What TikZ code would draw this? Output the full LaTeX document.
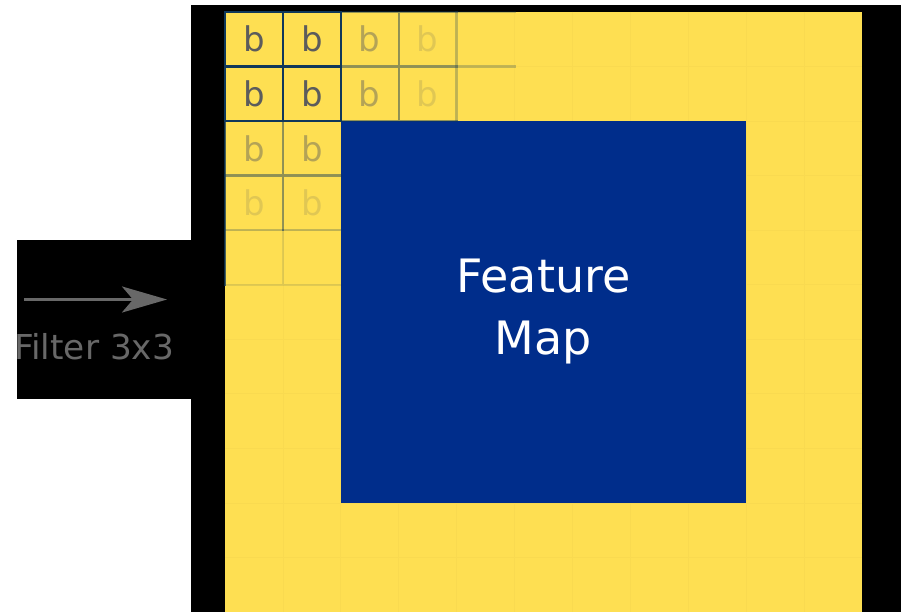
\documentclass[tikz,border=0pt]{standalone}
\usepackage{fontspec}
\setmainfont{DejaVu Sans}
\usetikzlibrary{arrows.meta}
\definecolor{padyellow}{RGB}{254,223,82}
\definecolor{faintline}{RGB}{249,218,80}
\definecolor{fmblue}{RGB}{0,45,139}
\definecolor{filterline}{RGB}{16,56,90}
\definecolor{bgray}{RGB}{92,92,92}
\definecolor{labelgray}{RGB}{104,104,104}
\tikzset{
  cellletter/.style={text=bgray, font=\fontsize{34}{40}\selectfont, inner sep=0pt, anchor=center},
  fline/.style={draw=filterline, line width=2.4pt, line cap=rect},
  arrowline/.style={draw=labelgray, line width=3pt, -{Stealth[length=45pt,width=26pt,inset=11pt]}},
}
\begin{document}
\begin{tikzpicture}[x=1pt,y=-1pt]
\useasboundingbox (0,0) rectangle (901,612);
\fill[white] (0,0) rectangle (901,612);
% black backgrounds
\fill[black] (191,5) rectangle (901,612);
\fill[black] (17,240) rectangle (191,399);
% yellow padded input
\fill[padyellow] (225,12) rectangle (862,612);
\begin{scope}[shift={(225,12)}, x=57.909pt, y=-54.545pt]
  % faint grid
  \foreach \i in {1,...,10} {
    \draw[faintline, line width=0.8pt] (\i,0) -- (\i,11);
    \draw[faintline, line width=0.8pt] (0,\i) -- (11,\i);
  }
  % feature map
  \node (fm) [rectangle, fill=fmblue, inner sep=0pt, minimum width=405.36pt, minimum height=381.8pt,
        text=white, align=center, font=\fontsize{46}{62}\selectfont] at (5.5,5.5) {Feature\\Map};
  % filter trail lines
  \draw[fline, opacity=0.12] (0,5) -- (2,5) (1,4) -- (1,5);
  \draw[fline, opacity=0.25] (4,0) -- (5,0) (4,1) -- (5,1) (4,0) -- (4,2) (0,4) -- (2,4);
  \draw[fline, opacity=0.45] (2,0) -- (4,0) (2,1) -- (4,1) (2,2) -- (4,2) (3,0) -- (3,2)
        (0,3) -- (2,3) (1,2) -- (1,4);
  \draw[fline, opacity=0.75] (0,2) -- (0,5);
  \draw[fline] (0,0) rectangle (2,2) (1,0) -- (1,2) (0,1) -- (2,1);
  % letters
  \node[cellletter] (b00) at (0.5,0.5) {b};
  \node[cellletter] (b01) at (1.5,0.5) {b};
  \node[cellletter, opacity=0.45] (b02) at (2.5,0.5) {b};
  \node[cellletter, opacity=0.18] (b03) at (3.5,0.5) {b};
  \node[cellletter] (b10) at (0.5,1.5) {b};
  \node[cellletter] (b11) at (1.5,1.5) {b};
  \node[cellletter, opacity=0.45] (b12) at (2.5,1.5) {b};
  \node[cellletter, opacity=0.18] (b13) at (3.5,1.5) {b};
  \node[cellletter, opacity=0.45] (b20) at (0.5,2.5) {b};
  \node[cellletter, opacity=0.45] (b21) at (1.5,2.5) {b};
  \node[cellletter, opacity=0.18] (b30) at (0.5,3.5) {b};
  \node[cellletter, opacity=0.18] (b31) at (1.5,3.5) {b};
\end{scope}
% arrow and label
\coordinate (arrowstart) at (24,299.5);
\coordinate (arrowend) at (167,299.5);
\draw[arrowline] (arrowstart) -- (arrowend);
\node (ft) [anchor=base west, inner sep=0pt, text=labelgray, font=\fontsize{34.3}{40}\selectfont] at (14,359.3) {Filter 3x3};
\end{tikzpicture}
\end{document}
